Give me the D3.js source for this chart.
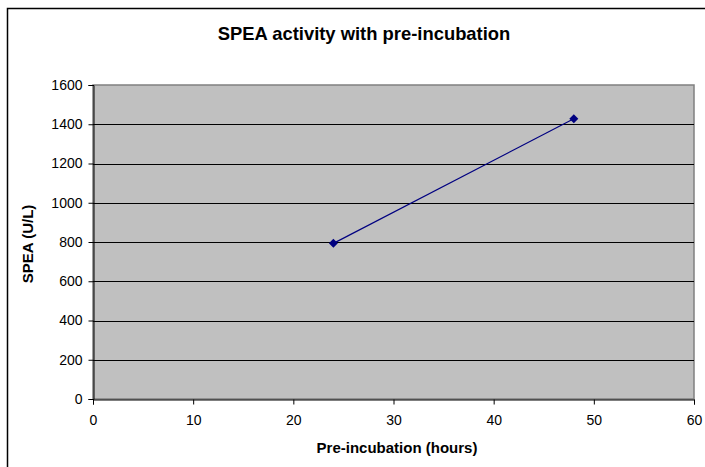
<!DOCTYPE html>
<html><head><meta charset="utf-8">
<script src="https://cdn.jsdelivr.net/npm/d3@7"></script>
<style>body{margin:0;background:#fff}svg{display:block}</style>
</head><body>
<script>
const hours = [24, 48];
const spea = [793, 1428];
const xTicks = [0, 10, 20, 30, 40, 50, 60];
const yTicks = [0, 200, 400, 600, 800, 1000, 1200, 1400, 1600];
const title = "SPEA activity with pre-incubation";
const xLabel = "Pre-incubation (hours)";
const yLabel = "SPEA (U/L)";

const W = 705, H = 467;
const L = 93, R = 694, T = 85, B = 399;
const svg = d3.select("body").append("svg").attr("width", W).attr("height", H);
const font = "Liberation Sans, Arial, sans-serif";

svg.append("rect").attr("x", 7.5).attr("y", 8.5).attr("width", 720).attr("height", 480)
  .attr("fill", "#fff").attr("stroke", "#000").attr("stroke-width", 1.5);

const x = d3.scaleLinear().domain([0, 60]).range([L, R]);
const y = d3.scaleLinear().domain([0, 1600]).range([B, T]);

svg.append("rect").attr("x", L).attr("y", T).attr("width", R - L).attr("height", B - T)
  .attr("fill", "#c0c0c0").attr("stroke", "#808080").attr("stroke-width", 1.5);

svg.append("g").selectAll("line").data(yTicks.filter(d => d > 0 && d < 1600)).join("line")
  .attr("x1", L).attr("x2", R).attr("y1", d => Math.round(y(d)) + 0.5).attr("y2", d => Math.round(y(d)) + 0.5)
  .attr("stroke", "#000").attr("stroke-width", 1);

const yAxis = svg.append("g").attr("transform", `translate(${L + 0.5},0)`)
  .call(d3.axisLeft(y).tickValues(yTicks).tickSize(5).tickPadding(6).tickFormat(d3.format("d")));
const xAxis = svg.append("g").attr("transform", `translate(0,${B + 0.5})`)
  .call(d3.axisBottom(x).tickValues(xTicks).tickSize(5).tickPadding(11).tickFormat(d3.format("d")));
[yAxis, xAxis].forEach(g => {
  g.select(".domain").attr("stroke", "#000");
  g.selectAll(".tick line").attr("stroke", "#000");
  g.selectAll("text").attr("font-family", font).attr("font-size", 14).attr("fill", "#000");
});

const pts = hours.map((h, i) => [h, spea[i]]);
svg.append("path").datum(pts)
  .attr("d", d3.line().x(d => x(d[0])).y(d => y(d[1])))
  .attr("fill", "none").attr("stroke", "#000080").attr("stroke-width", 1.2);
svg.append("g").selectAll("path").data(pts).join("path")
  .attr("transform", d => `translate(${x(d[0])},${y(d[1])})`)
  .attr("d", "M0,-4.5L4.5,0L0,4.5L-4.5,0Z").attr("fill", "#000080");

svg.append("text").attr("x", 364).attr("y", 40).attr("text-anchor", "middle")
  .attr("font-family", font).attr("font-weight", "bold").attr("font-size", 18.4).text(title);
svg.append("text").attr("x", 397).attr("y", 453).attr("text-anchor", "middle")
  .attr("font-family", font).attr("font-weight", "bold").attr("font-size", 15).text(xLabel);
svg.append("text").attr("transform", `translate(33,${(T + B) / 2 + 2}) rotate(-90)`).attr("text-anchor", "middle")
  .attr("font-family", font).attr("font-weight", "bold").attr("font-size", 15).text(yLabel);
</script>
</body></html>
